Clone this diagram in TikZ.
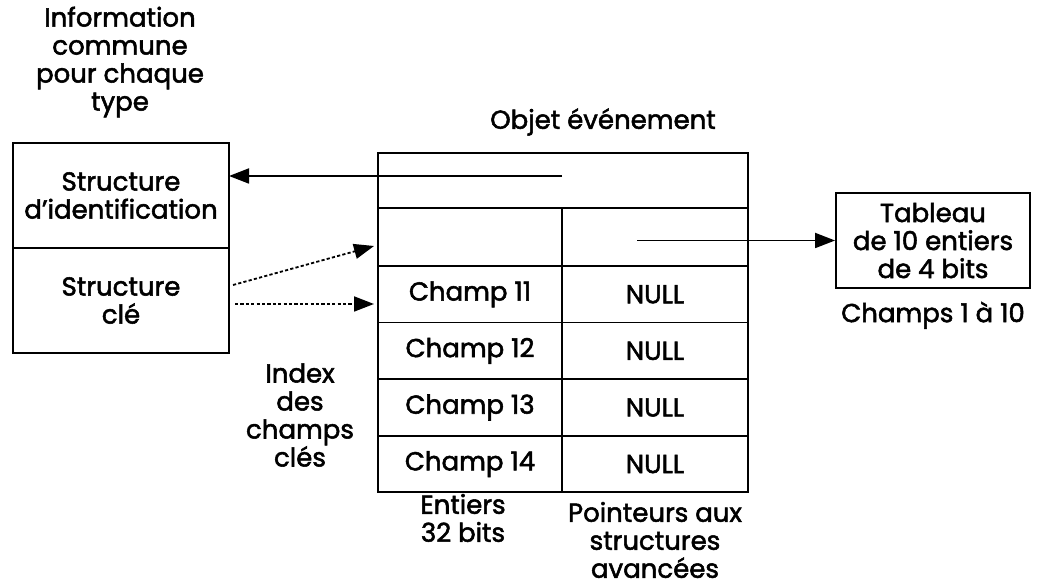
\documentclass[tikz,border=0pt]{standalone}
\usepackage{fontspec}
\setmainfont{Poppins}[FakeBold=2]
\usepackage{tikz}
\usetikzlibrary{
  arrows.meta,
  positioning
}

\begin{document}
\begin{tikzpicture}[
  x=0.5pt, y=-0.5pt,
  font=\fontsize{13pt}{14pt}\selectfont,
  >={Triangle[length=10pt,width=7.5pt]},
  line width=0.9pt,
  cell/.style={draw, minimum width=92pt, minimum height=28.3pt,
               inner sep=0pt, outer sep=0pt, align=center},
  half/.style={draw, minimum width=108pt, minimum height=52.5pt,
               inner sep=0pt, outer sep=0pt, align=center},
  lbl/.style={align=center, inner sep=0pt},
  arr/.style={->},
  dotarr/.style={->, dash pattern=on 1.6pt off 1.1pt},
]
  \useasboundingbox (0,0) rectangle (1051,588);

  % structure commune
  \node[lbl] (info) at (120,62) {Information\\commune\\pour chaque\\type};
  \node[half] (ident) at (121,195.5) {Structure\\d'identification};
  \node[half, below=0pt of ident] (cle) {Structure\\clé};

  % objet evenement
  \node[lbl] (objlbl) at (603,122) {Objet événement};
  \node[draw, minimum width=185pt, minimum height=27.5pt,
        inner sep=0pt, outer sep=0pt] (hdr) at (563,180.5) {};
  \node[cell, minimum height=29pt, below=0pt of hdr.south west,
        anchor=north west] (idx0) {};
  \node[cell, minimum height=29pt, minimum width=93pt,
        right=0pt of idx0] (ptr0) {};
  \node[cell, below=0pt of idx0] (c11) {Champ 11};
  \node[cell, minimum width=93pt, right=0pt of c11] (n11) {NULL};
  \node[cell, below=0pt of c11] (c12) {Champ 12};
  \node[cell, minimum width=93pt, right=0pt of c12] (n12) {NULL};
  \node[cell, below=0pt of c12] (c13) {Champ 13};
  \node[cell, minimum width=93pt, right=0pt of c13] (n13) {NULL};
  \node[cell, below=0pt of c13] (c14) {Champ 14};
  \node[cell, minimum width=93pt, right=0pt of c14] (n14) {NULL};

  \node[lbl] (index) at (300,415) {Index\\des\\champs\\clés};
  \node[lbl] (ent) at (463,518) {Entiers\\32 bits};
  \node[lbl] (ptrs) at (655,540) {Pointeurs aux\\structures\\avancées};

  % tableau des champs
  \node[draw, minimum width=97pt, minimum height=47.5pt, inner sep=0pt,
        align=center] (tab) at (933,240.5) {Tableau\\de 10 entiers\\de 4 bits};
  \node[lbl, below=6pt of tab] (champs) {Champs 1 à 10};

  % fleches
  \coordinate (hdrpt) at (562,176);
  \coordinate (tabpt) at (637,240.5);
  \coordinate (ds1) at (233,285);
  \coordinate (de1) at (374,246);
  \coordinate (ds2) at (235,304);
  \coordinate (de2) at (374,304);

  \draw[arr] (hdrpt) -- (hdrpt -| ident.east);
  \draw[arr] (tabpt) -- (tab.west);
  \draw[dotarr] (ds1) -- (de1);
  \draw[dotarr] (ds2) -- (de2);
\end{tikzpicture}
\end{document}
